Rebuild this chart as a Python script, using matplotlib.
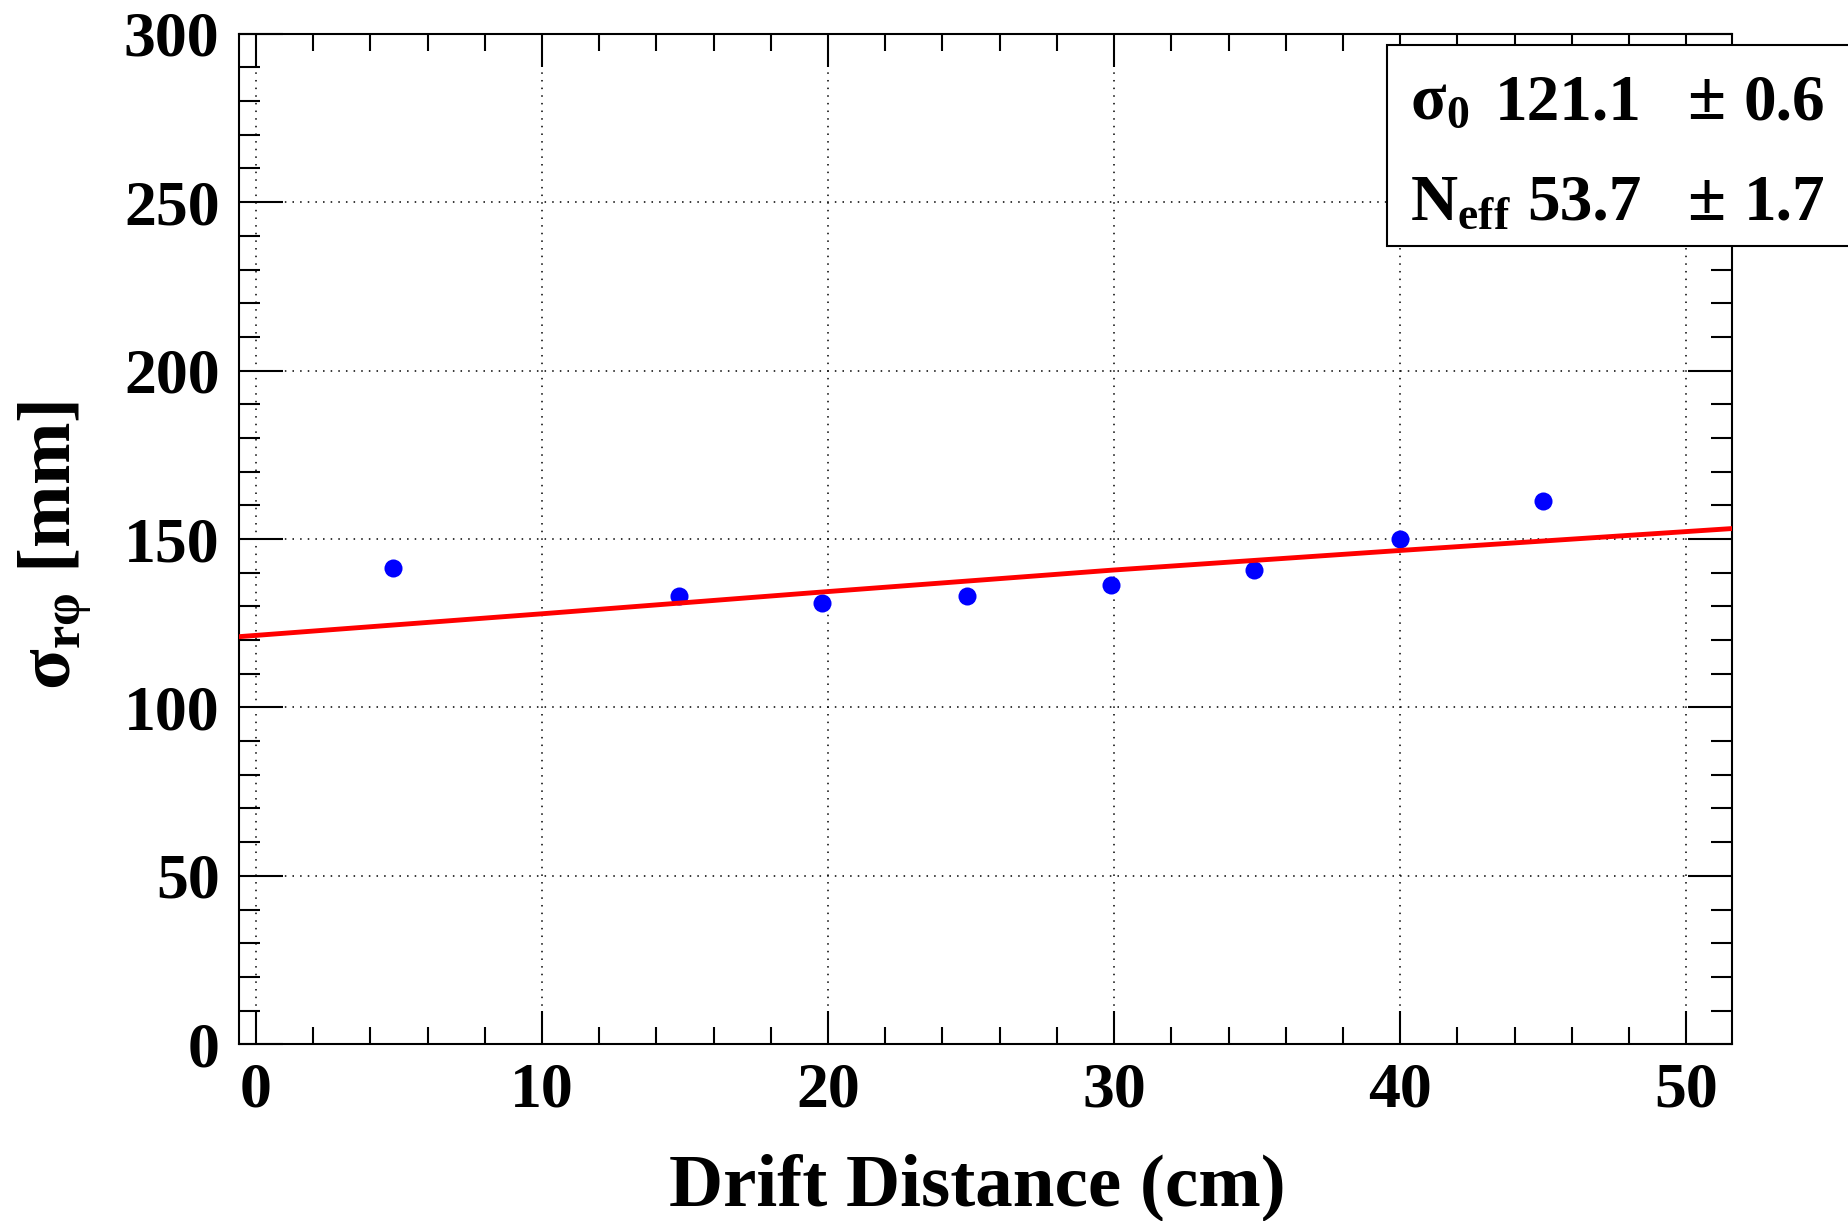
import numpy as np
import matplotlib
matplotlib.use('Agg')
import matplotlib.pyplot as plt
from matplotlib.patches import Rectangle

# measured points (drift distance in cm, resolution)
drift = [4.8, 14.8, 19.8, 24.85, 29.9, 34.9, 40.0, 45.0]
sigma = [141.3, 133.2, 130.9, 133.0, 136.3, 140.7, 149.9, 161.2]

# fit curve
fit_x = [-0.6, 10, 20, 30, 40, 51.6]
fit_y = [121.0, 127.8, 134.4, 140.8, 146.6, 153.1]

# fit parameters in the stat box
sigma0, sigma0_err = 121.1, 0.6
neff, neff_err = 53.7, 1.7

xticks = [0, 10, 20, 30, 40, 50]
yticks = [0, 50, 100, 150, 200, 250, 300]

plt.rcParams['font.family'] = ['Liberation Serif', 'DejaVu Serif']
plt.rcParams['font.weight'] = 'bold'
plt.rcParams['mathtext.fontset'] = 'custom'
plt.rcParams['mathtext.rm'] = 'Liberation Serif:bold'
plt.rcParams['mathtext.it'] = 'Liberation Serif:bold'
plt.rcParams['mathtext.bf'] = 'Liberation Serif:bold'
plt.rcParams['mathtext.default'] = 'bf'

W, H = 1849, 1221
fig = plt.figure(figsize=(W / 100, H / 100), dpi=100)
ax = fig.add_axes([239 / W, 1 - 1044.3 / H, (1732 - 239) / W, (1044.3 - 33.7) / H])

ax.plot(drift, sigma, 'o', color='blue', ms=13, mew=0, zorder=2)
ax.plot(fit_x, fit_y, color='red', lw=3.5, zorder=3)

ax.set_xlim(-0.59, 51.6)
ax.set_ylim(0, 300)
ax.set_xticks(xticks)
ax.set_yticks(yticks)
ax.set_xticks(np.arange(0, 52, 2), minor=True)
ax.set_yticks(np.arange(0, 301, 10), minor=True)

ax.grid(which='major', color='black', linestyle=(0, (1, 4)), linewidth=1.1)
for s in ax.spines.values():
    s.set_linewidth(1.5)

ax.tick_params(which='both', direction='in', top=True, right=True, width=1.5,
               labelsize=46)
ax.tick_params(axis='x', which='major', length=24, pad=13)
ax.tick_params(axis='x', which='minor', length=12)
ax.tick_params(axis='y', which='major', length=32, pad=14)
ax.tick_params(axis='y', which='minor', length=15)

fig.text(977.5 / W, 16 / H, 'Drift Distance (cm)', ha='center', va='baseline',
         fontsize=54, fontweight='bold')
fig.text(70 / W, 1 - 545 / H, r'$\sigma_{r\varphi}$ [mm]', rotation=90,
         rotation_mode='anchor', ha='center', va='baseline', fontsize=54,
         fontweight='bold')

# stat box
box = Rectangle((1386.7 / W, 1 - 246 / H), (W - 1386.7 + 20) / W, 201 / H,
                transform=fig.transFigure, facecolor='white', edgecolor='black',
                linewidth=1.5, zorder=5)
fig.add_artist(box)

rows = [(r'$\sigma_{0}$', sigma0, sigma0_err, 119),
        (r'N$_{eff}$', neff, neff_err, 220)]
for name, val, err, base in rows:
    yb = 1 - base / H
    fig.text(1410 / W, yb, name, ha='left', va='baseline', fontsize=47, zorder=6)
    fig.text(1642 / W, yb, f'{val:.1f}', ha='right', va='baseline', fontsize=47, zorder=6)
    fig.text(1687 / W, yb, '\u00b1', ha='left', va='baseline', fontsize=50, zorder=6)
    fig.text(1825 / W, yb, f'{err:.1f}', ha='right', va='baseline', fontsize=47, zorder=6)

fig.savefig('out.png', dpi=100)
